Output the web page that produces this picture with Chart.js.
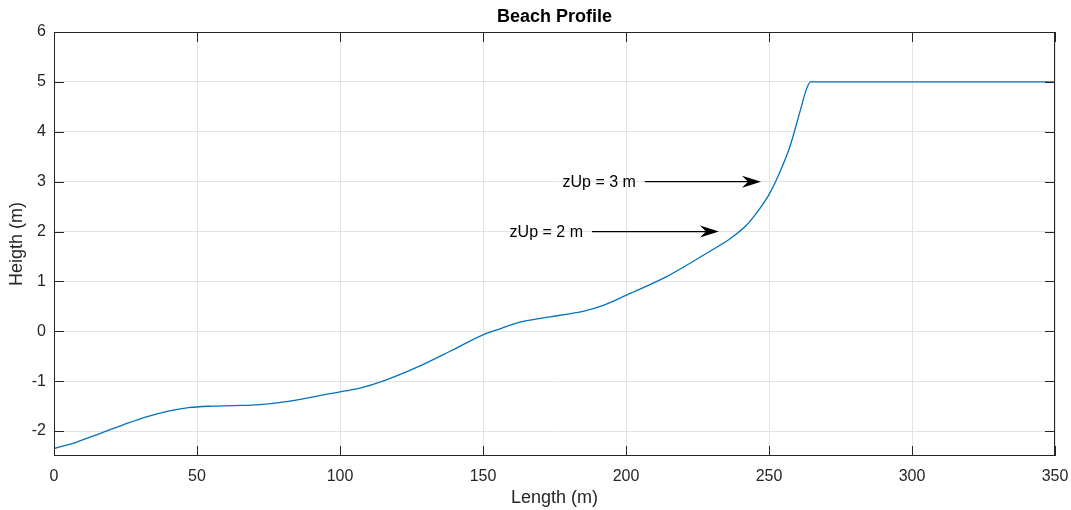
<!DOCTYPE html>
<html>
<head>
<meta charset="utf-8">
<title>Beach Profile</title>
<script src="https://cdn.jsdelivr.net/npm/chart.js@4/dist/chart.umd.min.js"></script>
<style>
  html, body { margin: 0; padding: 0; background: #fff; }
  #wrap { width: 1071px; height: 510px; position: relative; }
</style>
</head>
<body>
<div id="wrap"><canvas id="chart-profile"></canvas></div>
<script>
// Perfil de playa (longitud en m, altura en m)
const lengthX = [0, 8, 16, 24, 32, 40, 47, 55, 63, 72, 82.5, 96.5, 103.5, 107, 115, 127,
  138.5, 150, 156, 162, 168, 173.5, 179, 185, 192, 200, 214, 229.5, 236.5, 242, 246, 250,
  254, 257.3, 261, 263, 264.5, 350];
const heightY = [-2.35, -2.22, -2.05, -1.88, -1.72, -1.60, -1.53, -1.50, -1.49, -1.47, -1.40,
  -1.25, -1.18, -1.14, -1.0, -0.72, -0.40, -0.07, 0.05, 0.17, 0.24, 0.29, 0.34, 0.40, 0.52,
  0.72, 1.09, 1.61, 1.86, 2.12, 2.40, 2.74, 3.22, 3.70, 4.44, 4.84, 5.0, 5.0];

// Marcas de ejes
const xTicks = [0, 50, 100, 150, 200, 250, 300, 350];
const yTicks = [-2, -1, 0, 1, 2, 3, 4, 5, 6];

// Anotaciones (flechas)
const noteText   = ['zUp = 3 m', 'zUp = 2 m'];
const noteStartX = [206.6, 188.1];
const noteEndX   = [247.2, 232.5];
const noteY      = [3, 2];

const TXT = '#262626';
const FONT = 'Arial, "Liberation Sans", Helvetica, sans-serif';

// Caja, marcas internas, título y flechas al estilo MATLAB
const matlabBox = {
  id: 'matlabBox',
  afterDatasetsDraw(chart) {
    const { ctx, chartArea: a, scales: { x, y } } = chart;
    ctx.save();
    ctx.strokeStyle = TXT;
    ctx.lineWidth = 1;
    ctx.beginPath();
    xTicks.forEach((v) => {
      const px = Math.round(x.getPixelForValue(v)) + 0.5;
      ctx.moveTo(px, a.bottom); ctx.lineTo(px, a.bottom - 10);
      ctx.moveTo(px, a.top);    ctx.lineTo(px, a.top + 10);
    });
    yTicks.forEach((v) => {
      const py = Math.round(y.getPixelForValue(v)) + 0.5;
      ctx.moveTo(a.left, py);  ctx.lineTo(a.left + 10, py);
      ctx.moveTo(a.right, py); ctx.lineTo(a.right - 10, py);
    });
    ctx.stroke();
    ctx.strokeRect(a.left + 0.5, a.top + 0.5, a.right - a.left - 1, a.bottom - a.top - 1);

    // Título
    ctx.fillStyle = '#000';
    ctx.font = 'bold 18px ' + FONT;
    ctx.textAlign = 'center';
    ctx.textBaseline = 'middle';
    ctx.fillText('Beach Profile', (a.left + a.right) / 2, 17);

    // Flechas con texto
    noteText.forEach((t, i) => {
      const x0 = x.getPixelForValue(noteStartX[i]);
      const x1 = x.getPixelForValue(noteEndX[i]);
      const py = y.getPixelForValue(noteY[i]);
      ctx.strokeStyle = '#000';
      ctx.lineWidth = 1.3;
      ctx.beginPath();
      ctx.moveTo(x0, py); ctx.lineTo(x1 - 12, py);
      ctx.stroke();
      ctx.fillStyle = '#000';
      ctx.beginPath();
      ctx.moveTo(x1, py);
      ctx.lineTo(x1 - 19, py - 6);
      ctx.lineTo(x1 - 13, py);
      ctx.lineTo(x1 - 19, py + 6);
      ctx.closePath();
      ctx.fill();
      ctx.font = '16px ' + FONT;
      ctx.textAlign = 'right';
      ctx.textBaseline = 'middle';
      ctx.fillText(t, x0 - 9, py + 1);
    });
    ctx.restore();
  },
};

new Chart(document.getElementById('chart-profile'), {
  type: 'scatter',
  data: {
    datasets: [{
      data: lengthX.map((v, i) => ({ x: v, y: heightY[i] })),
      showLine: true,
      borderColor: '#0072BD',
      borderWidth: 1.3,
      pointRadius: 0,
      cubicInterpolationMode: 'monotone',
    }],
  },
  options: {
    responsive: true,
    maintainAspectRatio: false,
    animation: false,
    layout: { padding: { top: 32, right: 16, left: 0, bottom: 0 } },
    plugins: { legend: { display: false }, tooltip: { enabled: false } },
    scales: {
      x: {
        type: 'linear',
        min: 0, max: 350,
        afterBuildTicks: (s) => { s.ticks = xTicks.map((v) => ({ value: v })); },
        afterFit: (s) => { s.height = 54; s.paddingLeft = 0; s.paddingRight = 0; },
        ticks: { color: TXT, font: { family: FONT, size: 16 }, padding: 11, maxRotation: 0 },
        grid: { color: '#e3e3e3', drawTicks: false },
        border: { display: false },
        title: { display: true, text: 'Length (m)', color: TXT, font: { family: FONT, size: 18 }, padding: { top: 0, bottom: 1 } },
      },
      y: {
        min: -2.5, max: 6,
        afterBuildTicks: (s) => { s.ticks = yTicks.map((v) => ({ value: v })); },
        afterFit: (s) => { s.width = 54; },
        ticks: { color: TXT, font: { family: FONT, size: 16 }, padding: 8 },
        grid: { color: '#e3e3e3', drawTicks: false },
        border: { display: false },
        title: { display: true, text: 'Heigth (m)', color: TXT, font: { family: FONT, size: 18 }, padding: { top: 6, bottom: 0 } },
      },
    },
  },
  plugins: [matlabBox],
});
</script>
</body>
</html>
